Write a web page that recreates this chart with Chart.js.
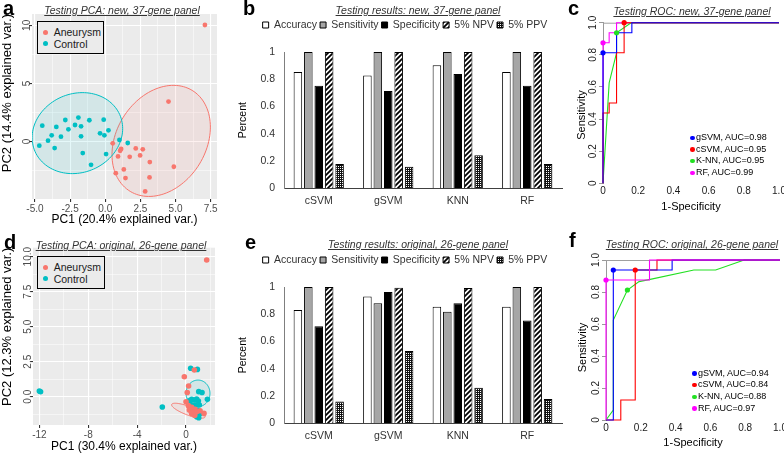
<!DOCTYPE html>
<html lang="en">
<head>
<meta charset="UTF-8">
<title>Testing PCA, classifier results and ROC curves</title>
<script src="https://cdn.jsdelivr.net/npm/chart.js"></script>
<style>
  body { margin: 0; background: #fff; font-family: "Liberation Sans", Arial, sans-serif; }
  #fig { position: relative; width: 784px; height: 455px; overflow: hidden; }
  #fig canvas, #fig div, #fig span { position: absolute; }
  .letter { font-size: 20px; font-weight: bold; line-height: 20px; color: #000; }
  .ttl { font-size: 10.5px; font-style: italic; text-decoration: underline; color: #333; white-space: nowrap; line-height: 12px; transform: translate(-50%, -50%); }
  .pleg { box-sizing: border-box; border: 1.5px solid #000; background: #EBEBEB; }
  .txt { font-size: 10.5px; line-height: 12px; color: #1a1a1a; white-space: nowrap; }
  .dot { border-radius: 50%; }
  .rtxt { font-size: 9px; line-height: 11px; white-space: nowrap; color: #000; }
</style>
</head>
<body>
<div id="fig">
  <canvas id="pcaNew" width="222" height="228" style="left:0;top:0"></canvas>
  <canvas id="barNew" width="334" height="225" style="left:236px;top:0"></canvas>
  <canvas id="rocNew" width="224" height="225" style="left:560px;top:0"></canvas>
  <canvas id="pcaOrig" width="222" height="230" style="left:0;top:225px"></canvas>
  <canvas id="barOrig" width="334" height="220" style="left:236px;top:235px"></canvas>
  <canvas id="rocOrig" width="224" height="230" style="left:560px;top:225px"></canvas>

  <div class="letter" style="left:3px;top:-2px">a</div>
  <div class="letter" style="left:243px;top:-2px">b</div>
  <div class="letter" style="left:568px;top:-2px">c</div>
  <div class="letter" style="left:4px;top:232px">d</div>
  <div class="letter" style="left:245px;top:232px">e</div>
  <div class="letter" style="left:569px;top:230px">f</div>

  <div class="ttl" style="left:122px;top:10px">Testing PCA: new, 37-gene panel</div>
  <div class="ttl" style="left:418px;top:10px">Testing results: new, 37-gene panel</div>
  <div class="ttl" style="left:692px;top:11px">Testing ROC: new, 37-gene panel</div>
  <div class="ttl" style="left:121px;top:245px">Testing PCA: original, 26-gene panel</div>
  <div class="ttl" style="left:418px;top:244px">Testing results: original, 26-gene panel</div>
  <div class="ttl" style="left:692px;top:244px">Testing ROC: original, 26-gene panel</div>
</div>

<script>
// ---------- data ----------
const groups = ['Aneurysm', 'Control'];
const groupColors = ['#F8766D', '#00BFC4'];

// a: PCA of the new 37-gene panel, [PC1, PC2]
const pcaNewAneurysm = [
  [7.09, 10.03], [4.50, 3.43], [4.88, -2.19], [3.17, -1.79], [3.15, -3.11], [2.84, -4.32],
  [2.67, -0.69], [2.17, -0.61], [2.48, -1.21], [1.74, -1.33], [1.32, -2.42], [1.44, -3.17],
  [1.13, -0.66], [0.91, -1.30], [0.75, -2.74], [0.53, -0.17], [1.06, -0.81]
];
const pcaNewControl = [
  [-4.69, -0.37], [-4.48, 1.35], [-4.07, 0.06], [-3.81, 0.52], [-3.60, -0.58], [-3.48, 1.24],
  [-3.15, 0.40], [-2.84, 1.84], [-2.62, 1.04], [-2.15, 1.41], [-1.91, 2.05], [-1.72, 1.30],
  [-1.72, 0.43], [-1.60, -1.01], [-1.13, 1.82], [-1.01, -2.02], [-0.37, 0.69], [-0.11, 1.87],
  [-0.06, 0.52], [0.06, -1.10], [0.23, 0.95], [1.01, 0.12], [1.60, -0.14]
];
// ellipses: centre x, centre y, first half-axis (x, y), second half-axis (x, y)
const ellNewAneurysm = [3.98, 0.04, 3.50, 1.19, 0, 4.64];
const ellNewControl = [-1.98, 0.71, 3.22, 0.39, 0, 3.47];
const pcaNewXTicks = [-5, -2.5, 0, 2.5, 5, 7.5];
const pcaNewYTicks = [0, 5, 10];

// d: PCA of the original 26-gene panel
const pcaOrigAneurysm = [
  [1.69, 9.76], [-0.14, 1.43], [0.68, 1.91], [0.21, 0.76], [0.10, 0.30], [0.00, -0.36],
  [0.19, -0.64], [0.46, -0.76], [0.27, -0.95], [0.74, -0.90], [0.87, -1.07], [1.15, -1.00],
  [0.60, -1.12], [0.46, -1.19], [0.71, -1.34], [1.47, -1.19]
];
const pcaOrigControl = [
  [-12.0, 0.41], [-11.9, 0.35], [-1.94, -0.74], [0.38, 2.03], [0.93, 1.95], [1.04, 0.36],
  [1.31, 0.30], [1.75, -0.19], [0.25, -0.29], [0.46, -0.19], [0.68, -0.24], [0.87, -0.16],
  [1.01, -0.31], [0.38, -0.55], [0.74, -0.59], [1.09, -0.59], [0.55, -0.83], [0.93, -0.95],
  [1.15, -1.19], [0.87, -1.43], [1.04, -1.50]
];
const ellOrigAneurysm = [0.19, -1.0, 1.37, -0.42, 0, 0.33];
const ellOrigControl = [0.98, 0.24, 0.98, 0, 0, 0.95];
const pcaOrigXTicks = [-12, -8, -4, 0];
const pcaOrigYTicks = [0, 2.5, 5, 7.5, 10];

// b, e: testing results per classifier
const models = ['cSVM', 'gSVM', 'KNN', 'RF'];
const metrics = ['Accuracy', 'Sensitivity', 'Specificity', '5% NPV', '5% PPV'];
const accuracyNew = [0.854, 0.828, 0.902, 0.854];
const sensitivityNew = [1, 1, 1, 1];
const specificityNew = [0.753, 0.714, 0.838, 0.753];
const npvNew = [1, 1, 1, 1];
const ppvNew = [0.178, 0.158, 0.243, 0.178];
const accuracyOrig = [0.831, 0.931, 0.856, 0.856];
const sensitivityOrig = [1, 0.881, 0.819, 1];
const specificityOrig = [0.712, 0.963, 0.881, 0.755];
const npvOrig = [1, 0.995, 0.993, 1];
const ppvOrig = [0.160, 0.531, 0.261, 0.179];

// c, f: ROC curves, [1-specificity, sensitivity]
const rocNames = ['gSVM', 'cSVM', 'K-NN', 'RF'];
const rocColors = ['#0000FF', '#FF0000', '#22E022', '#FF00FF'];
const aucNew = [0.98, 0.95, 0.95, 0.99];
const aucOrig = [0.94, 0.84, 0.88, 0.97];
const rocNewGsvm = [[0, 0], [0, 0.8125], [0.077, 0.8125], [0.077, 0.9375], [0.164, 0.9375], [0.164, 1], [1, 1]];
const rocNewCsvm = [[0, 0], [0, 0.4375], [0.035, 0.4375], [0.035, 0.5], [0.077, 0.5], [0.077, 0.8125], [0.12, 0.8125], [0.12, 1], [1, 1]];
const rocNewKnn = [[0, 0], [0.035, 0.625], [0.077, 0.8125], [0.077, 0.9375], [0.16, 1], [1, 1]];
const rocNewRf = [[0, 0], [0, 0.875], [0.035, 0.875], [0.035, 0.9375], [0.077, 0.9375], [0.077, 1], [1, 1]];
const rocNewMarks = [[0, 0.8125], [0.12, 1], [0.077, 0.9375], [0, 0.875]];
const rocOrigGsvm = [[0, 0], [0.042, 0], [0.042, 0.9375], [0.38, 0.9375], [0.38, 1], [1, 1]];
const rocOrigCsvm = [[0, 0], [0.085, 0], [0.085, 0.125], [0.168, 0.125], [0.168, 0.9375], [0.293, 0.9375], [0.293, 1], [1, 1]];
const rocOrigKnn = [[0, 0], [0.042, 0.0625], [0.042, 0.625], [0.123, 0.8125], [0.19, 0.865], [0.254, 0.879], [0.505, 0.9375], [0.63, 0.9375], [0.794, 1], [1, 1]];
const rocOrigRf = [[0, 0], [0, 0.875], [0.25, 0.875], [0.25, 1], [1, 1]];
const rocOrigMarks = [[0.042, 0.9375], [0.168, 0.9375], [0.123, 0.8125], [0, 0.875]];
const rocTicks = [0, 0.2, 0.4, 0.6, 0.8, 1];

// ---------- helpers ----------
const FONT = '"Liberation Sans", Arial, sans-serif';
Chart.defaults.font.family = FONT;
Chart.defaults.animation = false;
Chart.defaults.events = [];

const xy = arr => arr.map(p => ({ x: p[0], y: p[1] }));
const fig = document.getElementById('fig');

function el(cls, style, text) {
  const d = document.createElement('div');
  d.className = cls;
  Object.assign(d.style, style);
  if (text) d.textContent = text;
  fig.appendChild(d);
  return d;
}

// major ticks plus the minor lines half way between them
function gridVals(major, min, max) {
  const step = major[1] - major[0];
  const out = [];
  for (let v = major[0] - step; v <= major[major.length - 1] + step + 1e-9; v += step / 2) {
    if (v >= min - 1e-9 && v <= max + 1e-9) out.push(+v.toFixed(4));
  }
  return out;
}

const panelBg = color => ({
  id: 'panelBg',
  beforeDraw(chart) {
    const { left, top, width, height } = chart.chartArea;
    chart.ctx.save();
    chart.ctx.fillStyle = color;
    chart.ctx.fillRect(left, top, width, height);
    chart.ctx.restore();
  }
});

const ellipses = list => ({
  id: 'ellipses',
  beforeDatasetsDraw(chart) {
    const sx = chart.scales.x, sy = chart.scales.y, ctx = chart.ctx, ca = chart.chartArea;
    ctx.save();
    ctx.beginPath();
    ctx.rect(ca.left, ca.top, ca.width, ca.height);
    ctx.clip();
    list.forEach(e => {
      const p = e.p;
      ctx.beginPath();
      for (let k = 0; k <= 120; k++) {
        const t = k / 120 * 2 * Math.PI;
        const px = sx.getPixelForValue(p[0] + p[2] * Math.cos(t) + p[4] * Math.sin(t));
        const py = sy.getPixelForValue(p[1] + p[3] * Math.cos(t) + p[5] * Math.sin(t));
        if (k) ctx.lineTo(px, py); else ctx.moveTo(px, py);
      }
      ctx.closePath();
      ctx.fillStyle = e.fill;
      ctx.fill();
      ctx.strokeStyle = e.line;
      ctx.lineWidth = 1;
      ctx.stroke();
    });
    ctx.restore();
  }
});

// y tick labels and titles written bottom-to-top
const rotY = cfg => ({
  id: 'rotY',
  afterDraw(chart) {
    const sc = chart.scales.y, ctx = chart.ctx, ca = chart.chartArea;
    ctx.save();
    ctx.textAlign = 'center';
    ctx.textBaseline = 'middle';
    if (cfg.ticks) {
      ctx.font = cfg.tickFont;
      ctx.fillStyle = cfg.tickColor;
      sc.ticks.forEach(t => {
        if (!t.label) return;
        ctx.save();
        ctx.translate(ca.left - cfg.gap, sc.getPixelForValue(t.value));
        ctx.rotate(-Math.PI / 2);
        ctx.fillText(t.label, 0, 0);
        ctx.restore();
      });
    }
    if (cfg.title) {
      ctx.font = cfg.titleFont;
      ctx.fillStyle = '#000';
      ctx.translate(ca.left + cfg.dx, (ca.top + ca.bottom) / 2 + cfg.dy);
      ctx.rotate(-Math.PI / 2);
      ctx.fillText(cfg.title, 0, 0);
    }
    ctx.restore();
  }
});

const topLine = color => ({
  id: 'topLine',
  beforeDatasetsDraw(chart) {
    const ca = chart.chartArea, ctx = chart.ctx;
    ctx.save();
    ctx.strokeStyle = color;
    ctx.lineWidth = 1;
    ctx.beginPath();
    ctx.moveTo(ca.left, ca.top + 0.5);
    ctx.lineTo(ca.right, ca.top + 0.5);
    ctx.stroke();
    ctx.restore();
  }
});

const legendGap = extra => ({
  id: 'legendGap',
  beforeInit(chart) {
    if (!chart.legend) return;
    const fit = chart.legend.fit;
    chart.legend.fit = function () { fit.call(this); this.height += extra; };
  }
});

function makePattern(kind) {
  const c = document.createElement('canvas');
  const g = c.getContext('2d');
  if (kind === 'hatch') {
    c.width = c.height = 5;
    g.fillStyle = '#fff';
    g.fillRect(0, 0, 5, 5);
    g.strokeStyle = '#000';
    g.lineWidth = 1.8;
    g.beginPath();
    g.moveTo(-1, 6); g.lineTo(6, -1);
    g.moveTo(-1, 1); g.lineTo(1, -1);
    g.moveTo(4, 6); g.lineTo(6, 4);
    g.stroke();
  } else {
    c.width = c.height = 4;
    g.fillStyle = '#111';
    g.fillRect(0, 0, 4, 4);
    g.fillStyle = '#fff';
    [[0, 0], [2, 2], [0, 2], [2, 0]].forEach(p => g.fillRect(p[0], p[1], 1, 1));
  }
  return g.createPattern(c, 'repeat');
}
const hatch = makePattern('hatch');
const checker = makePattern('checker');

// ---------- PCA panels ----------
function pcaChart(id, aneurysm, control, ells, s) {
  const xGrid = gridVals(s.xTicks, s.xMin, s.xMax);
  const yGrid = gridVals(s.yTicks, s.yMin, s.yMax);
  const majX = v => s.xTicks.some(m => Math.abs(m - v) < 1e-6);
  const majY = v => s.yTicks.some(m => Math.abs(m - v) < 1e-6);
  const gridFor = maj => ({
    color: '#fff',
    lineWidth: c => (c.tick && maj(c.tick.value)) ? 1.1 : 0.5,
    tickColor: c => (c.tick && maj(c.tick.value)) ? '#333' : 'rgba(0,0,0,0)',
    tickLength: 3
  });
  new Chart(document.getElementById(id), {
    type: 'scatter',
    data: {
      datasets: [
        { label: groups[0], data: xy(aneurysm), backgroundColor: groupColors[0], pointRadius: s.r, pointBorderWidth: 0 },
        { label: groups[1], data: xy(control), backgroundColor: groupColors[1], pointRadius: s.r, pointBorderWidth: 0 }
      ]
    },
    options: {
      responsive: false,
      layout: { padding: { top: s.padTop, right: s.padRight, left: 0, bottom: 0 } },
      plugins: { legend: { display: false }, tooltip: { enabled: false } },
      scales: {
        x: {
          type: 'linear', min: s.xMin, max: s.xMax,
          afterBuildTicks: sc => { sc.ticks = xGrid.map(v => ({ value: v })); },
          afterFit: sc => { sc.height = s.xH; sc.paddingLeft = 0; sc.paddingRight = 0; },
          grid: gridFor(majX),
          border: { display: false },
          ticks: { autoSkip: false, maxRotation: 0, padding: 1, color: '#4D4D4D', font: { size: 10 },
                   callback: v => majX(v) ? v.toFixed(s.xDec) : '' },
          title: { display: true, text: s.xTitle, color: '#000', font: { size: 12 }, padding: { top: 0, bottom: 1 } }
        },
        y: {
          type: 'linear', min: s.yMin, max: s.yMax,
          afterBuildTicks: sc => { sc.ticks = yGrid.map(v => ({ value: v })); },
          afterFit: sc => { sc.width = s.yW; },
          grid: gridFor(majY),
          border: { display: false },
          ticks: { display: false, callback: v => majY(v) ? v.toFixed(s.yDec) : '' },
          title: { display: true, text: s.yTitle, align: 'end', color: '#000', font: { size: 13 }, padding: { top: 0, bottom: 0 } }
        }
      }
    },
    plugins: [
      panelBg('#EBEBEB'),
      ellipses([
        { p: ells[0], fill: 'rgba(248,118,109,0.10)', line: groupColors[0] },
        { p: ells[1], fill: 'rgba(0,191,196,0.10)', line: groupColors[1] }
      ]),
      rotY({ ticks: true, gap: 5, tickFont: '10px ' + FONT, tickColor: '#4D4D4D' })
    ]
  });
}

pcaChart('pcaNew', pcaNewAneurysm, pcaNewControl, [ellNewAneurysm, ellNewControl], {
  xTicks: pcaNewXTicks, yTicks: pcaNewYTicks, xMin: -5.21, xMax: 7.95, yMin: -4.97, yMax: 10.98,
  xDec: 1, yDec: 0, r: 2.4, padTop: 14, padRight: 5, xH: 29, yW: 32,
  xTitle: 'PC1 (20.4% explained var.)', yTitle: 'PC2 (14.4% explained var.)'
});
pcaChart('pcaOrig', pcaOrigAneurysm, pcaOrigControl, [ellOrigAneurysm, ellOrigControl], {
  xTicks: pcaOrigXTicks, yTicks: pcaOrigYTicks, xMin: -12.52, xMax: 2.37, yMin: -2.02, yMax: 10.64,
  xDec: 0, yDec: 1, r: 2.8, padTop: 22.7, padRight: 7, xH: 30, yW: 33,
  xTitle: 'PC1 (30.4% explained var.)', yTitle: 'PC2 (12.3% explained var.)'
});

// legends of the PCA panels
function pcaLegend(left, top, w, h) {
  const box = el('pleg', { left: left + 'px', top: top + 'px', width: w + 'px', height: h + 'px' });
  groups.forEach((g, i) => {
    const row = document.createElement('div');
    row.style.left = '0px'; row.style.top = (4.5 + i * 11.5) + 'px';
    const d = document.createElement('span');
    d.className = 'dot';
    Object.assign(d.style, { left: '5.5px', top: '3.5px', width: '5px', height: '5px', background: groupColors[i] });
    const t = document.createElement('span');
    t.className = 'txt';
    t.style.left = '16px'; t.style.top = '0px';
    t.textContent = g;
    row.appendChild(d); row.appendChild(t);
    box.appendChild(row);
  });
}
pcaLegend(36.7, 20.7, 67.5, 33.5);
pcaLegend(36.7, 255.7, 68.5, 33);

// ---------- bar panels ----------
function barChart(id, series, s) {
  const fills = ['#FFFFFF', '#A6A6A6', '#000000', hatch, checker];
  new Chart(document.getElementById(id), {
    type: 'bar',
    data: {
      labels: models,
      datasets: metrics.map((m, i) => ({
        label: m, data: series[i], backgroundColor: fills[i], borderColor: '#000', borderWidth: 1
      }))
    },
    options: {
      responsive: false,
      datasets: { bar: { categoryPercentage: 0.75, barPercentage: 0.82 } },
      layout: { padding: { top: 16.75, right: 8, left: 12, bottom: 0 } },
      plugins: {
        tooltip: { enabled: false },
        legend: {
          position: 'top',
          labels: { boxWidth: 6, boxHeight: 6, padding: 3, color: '#333', font: { size: 10.5 } }
        }
      },
      scales: {
        x: {
          afterFit: sc => { sc.height = s.xH; },
          grid: { display: false, drawTicks: false },
          border: { display: true, color: '#404040' },
          ticks: { color: '#333', font: { size: 10.5 }, padding: 6.4 }
        },
        y: {
          min: 0, max: 1,
          afterFit: sc => { sc.width = 36; },
          grid: { display: false, drawTicks: false },
          border: { display: true, color: '#7F7F7F' },
          ticks: { stepSize: 0.2, color: '#333', font: { size: 10.5 }, padding: 9,
                   callback: v => String(+v.toFixed(1)) }
        }
      }
    },
    plugins: [
      legendGap(11.75),
      rotY({ ticks: false, title: 'Percent', titleFont: '10.5px ' + FONT, dx: -41, dy: 0 })
    ]
  });
}

barChart('barNew', [accuracyNew, sensitivityNew, specificityNew, npvNew, ppvNew], { xH: 36.7 });
barChart('barOrig', [accuracyOrig, sensitivityOrig, specificityOrig, npvOrig, ppvOrig], { xH: 31.7 });

// ---------- ROC panels ----------
function rocChart(id, curves, marks, s) {
  const fmt = v => v === 0 ? '0' : v.toFixed(1);
  const datasets = [];
  rocNames.forEach((n, i) => {
    datasets.push({ label: n + ' mark', data: xy([marks[i]]), backgroundColor: rocColors[i],
                    pointRadius: 2.6, pointBorderWidth: 0, order: 0, clip: 6 });
    datasets.push({ label: n, data: xy(curves[i]), showLine: true, pointRadius: 0, borderColor: rocColors[i],
                    borderWidth: 1.1, fill: false, tension: 0, order: s.order[i], clip: 6 });
  });
  new Chart(document.getElementById(id), {
    type: 'scatter',
    data: { datasets },
    options: {
      responsive: false,
      layout: { padding: { top: s.padTop, right: s.padRight, left: 0, bottom: 0 } },
      plugins: { legend: { display: false }, tooltip: { enabled: false } },
      scales: {
        x: {
          type: 'linear', min: 0, max: 1,
          afterBuildTicks: sc => { sc.ticks = rocTicks.map(v => ({ value: v })); },
          afterFit: sc => { sc.height = s.xH; sc.paddingLeft = 0; sc.paddingRight = 0; },
          grid: { display: false, drawTicks: false },
          border: { display: false },
          ticks: { autoSkip: false, maxRotation: 0, padding: 2.4, color: '#1a1a1a', font: { size: 10 }, callback: fmt },
          title: { display: true, text: '1-Specificity', color: '#000', font: { size: 11 }, padding: { top: 0, bottom: s.xTitlePad } }
        },
        y: {
          type: 'linear', min: 0, max: 1,
          afterBuildTicks: sc => { sc.ticks = rocTicks.map(v => ({ value: v })); },
          afterFit: sc => { sc.width = s.yW; sc.paddingTop = 0; sc.paddingBottom = 0; },
          grid: { drawOnChartArea: false, drawTicks: true, tickLength: 4, color: '#999', tickColor: '#999' },
          border: { display: true, color: '#999' },
          ticks: { display: false, callback: fmt }
        }
      }
    },
    plugins: [
      topLine('#A0A0A0'),
      rotY({ ticks: true, gap: 10, tickFont: '10px ' + FONT, tickColor: '#1a1a1a',
             title: 'Sensitivity', titleFont: '11px ' + FONT, dx: s.titleDx, dy: s.titleDy })
    ]
  });
}

rocChart('rocNew', [rocNewGsvm, rocNewCsvm, rocNewKnn, rocNewRf], rocNewMarks, {
  padTop: 22.7, padRight: 5, xH: 41.7, yW: 43, xTitlePad: 11.7, titleDx: -21.3, titleDy: 12, order: [1, 2, 3, 4]
});
rocChart('rocOrig', [rocOrigGsvm, rocOrigCsvm, rocOrigKnn, rocOrigRf], rocOrigMarks, {
  padTop: 35, padRight: 4, xH: 35, yW: 46, xTitlePad: 5.1, titleDx: -22.7, titleDy: 7.5, order: [2, 3, 4, 1]
});

// legends of the ROC panels
function rocLegend(dotX, firstY, auc) {
  rocNames.forEach((n, i) => {
    const y = firstY + i * 11.6;
    el('dot', { left: (dotX - 2) + 'px', top: (y - 2) + 'px', width: '4.5px', height: '4.5px', background: rocColors[i] });
    el('rtxt', { left: (dotX + 4) + 'px', top: (y - 5.5) + 'px' }, n + ', AUC=' + auc[i].toFixed(2));
  });
}
rocLegend(692, 137.7, aucNew);
rocLegend(694, 373.3, aucOrig);
</script>
</body>
</html>
